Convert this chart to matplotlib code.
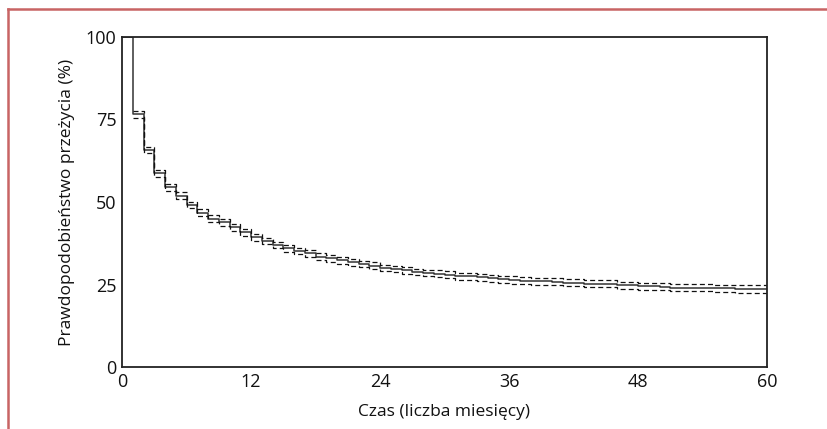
import matplotlib
matplotlib.use("Agg")
import matplotlib.pyplot as plt
from matplotlib.lines import Line2D
import numpy as np

months = list(range(0, 61))
survival = [100, 76.6, 65.8, 58.7, 54.4, 51.9, 49.1, 46.8, 45.0, 43.8, 42.3,
            40.8, 39.3, 38.2, 37.0, 36.0, 35.2, 34.4, 33.4, 32.9, 32.3,
            31.7, 31.2, 30.7, 30.0, 29.7, 29.3, 28.8, 28.5, 28.3, 28.0,
            27.5, 27.5, 27.2, 26.9, 26.6, 26.4, 26.2, 26.0, 26.0, 25.8,
            25.5, 25.5, 25.2, 25.2, 25.2, 24.8, 24.8, 24.5, 24.5, 24.3,
            24.0, 24.0, 24.0, 24.0, 23.8, 23.8, 23.5, 23.5, 23.5, 23.5]
ci_months = list(range(1, 61))
upper = [77.7, 66.8, 59.7, 55.4, 52.9, 50.1, 47.8, 46.0, 44.8, 43.3,
         41.8, 40.3, 39.2, 38.0, 37.0, 36.2, 35.4, 34.4, 33.9, 33.3,
         32.7, 32.2, 31.7, 31.0, 30.7, 30.3, 29.8, 29.5, 29.3, 29.0,
         28.5, 28.5, 28.2, 27.9, 27.7, 27.5, 27.3, 27.1, 27.1, 26.9,
         26.6, 26.6, 26.3, 26.3, 26.3, 25.9, 25.9, 25.6, 25.6, 25.4,
         25.1, 25.1, 25.1, 25.1, 24.9, 24.9, 24.7, 24.7, 24.7, 24.7]
lower = [75.5, 64.8, 57.7, 53.4, 50.9, 48.1, 45.8, 44.0, 42.8, 41.3,
         39.8, 38.3, 37.2, 36.0, 35.0, 34.2, 33.4, 32.4, 31.9, 31.3,
         30.7, 30.2, 29.7, 29.0, 28.7, 28.3, 27.8, 27.5, 27.3, 27.0,
         26.5, 26.5, 26.2, 25.9, 25.5, 25.3, 25.1, 24.9, 24.9, 24.7,
         24.4, 24.4, 24.1, 24.1, 24.1, 23.7, 23.7, 23.4, 23.4, 23.2,
         22.9, 22.9, 22.9, 22.9, 22.7, 22.7, 22.4, 22.4, 22.4, 22.4]
xticks = [0, 12, 24, 36, 48, 60]
yticks = [0, 25, 50, 75, 100]
xlabel = "Czas (liczba miesięcy)"
ylabel = "Prawdopodobieństwo przeżycia (%)"

fig = plt.figure(figsize=(8.27, 4.29), dpi=100)
ax = fig.add_axes([122/827, 62/429, 645/827, 330/429])

ax.step(months, survival, where='post', color='#333333', lw=1.1)
ax.step(ci_months, upper, where='post', color='#111111', lw=0.9,
        linestyle=(0, (4, 2.5)))
ax.step(ci_months, lower, where='post', color='#111111', lw=0.9,
        linestyle=(0, (4, 2.5)))

ax.set_xlim(0, 60)
ax.set_ylim(0, 100)
ax.set_xticks(xticks)
ax.set_yticks(yticks)
for lab in ax.get_xticklabels() + ax.get_yticklabels():
    lab.set_fontfamily(['Open Sans', 'DejaVu Sans'])
    lab.set_fontsize(13)
    lab.set_color('#111111')
ax.tick_params(length=0, pad=4)
for s in ax.spines.values():
    s.set_linewidth(1.3)
    s.set_color('#222222')

ax.set_xlabel(xlabel, fontfamily=['Open Sans', 'DejaVu Sans'], fontsize=12.5,
              color='#111111', labelpad=10)
ax.set_ylabel(ylabel, fontfamily=['Open Sans', 'DejaVu Sans'], fontsize=12.5,
              color='#111111', labelpad=8)

# decorative red frame (top and left)
red = '#c86464'
fig.add_artist(Line2D([7.5/827, 1.0], [1 - 9/429, 1 - 9/429],
                      transform=fig.transFigure, color=red, lw=1.8))
fig.add_artist(Line2D([7.5/827, 7.5/827], [0.0, 1 - 9/429],
                      transform=fig.transFigure, color=red, lw=1.8))

fig.savefig('out.png', dpi=100)
